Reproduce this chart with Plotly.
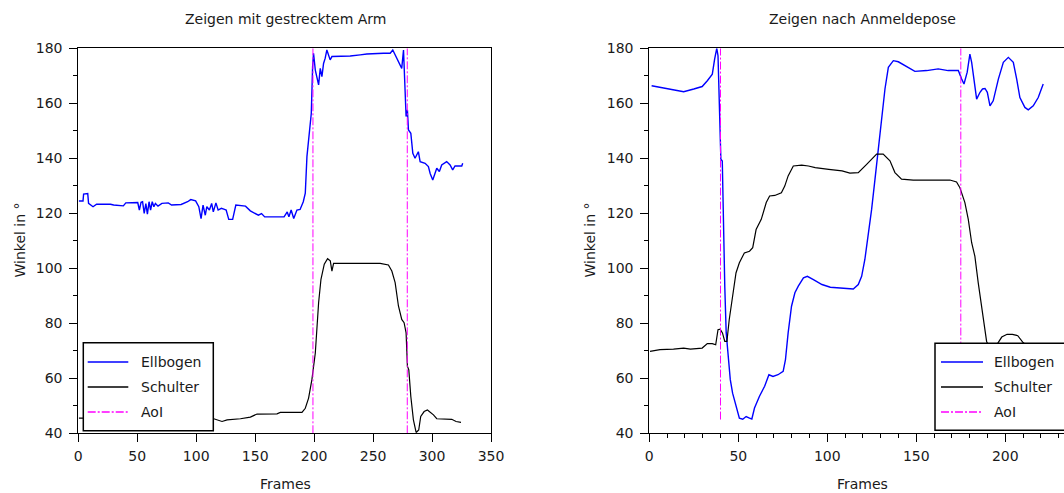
import plotly.graph_objects as go

# ---------------- data ----------------
left_frames_ellbogen = [0.5, 4.0, 4.5, 8.0, 8.7, 12.5, 15.5, 27.3, 30.0, 38.2,
                        40.3, 50.4, 51.8, 53.2, 54.5, 55.9, 57.3, 58.6, 60.0, 61.3,
                        62.7, 64.1, 65.4, 67.6, 70.9, 76.3, 79.1, 87.2, 92.7, 95.4,
                        99.5, 102.2, 104.1, 105.8, 107.7, 109.0, 111.2, 113.1, 114.5, 116.7,
                        118.6, 121.3, 124.0, 125.4, 127.6, 130.9, 133.6, 141.8, 145.9, 149.9,
                        152.7, 155.4, 158.1, 171.8, 174.5, 177.2, 178.6, 180.5, 182.7, 185.4,
                        188.1, 190.8, 192.5, 193.9, 196.2, 197.6, 198.7, 199.5, 201.0, 202.4,
                        203.8, 205.2, 206.6, 208.0, 209.4, 210.8, 212.2, 213.6, 215.1, 222.1,
                        230.6, 239.1, 244.7, 258.8, 264.5, 266.7, 268.7, 271.5, 274.3, 275.8,
                        276.6, 278.0, 279.1, 280.0, 282.0, 283.7, 285.6, 288.4, 289.9, 294.1,
                        296.9, 298.4, 300.6, 302.6, 304.0, 306.2, 308.2, 312.4, 315.3, 317.5,
                        319.5, 325.2, 326.0]
left_ellbogen = [124.5, 124.5, 127.0, 127.2, 123.6, 122.4, 123.3, 123.3, 123.0, 122.7,
                 123.8, 123.9, 121.2, 124.0, 124.2, 120.0, 123.5, 119.7, 124.2, 121.2,
                 124.2, 122.4, 123.6, 122.6, 123.6, 123.8, 123.0, 123.2, 124.2, 125.0,
                 124.5, 122.4, 118.1, 123.0, 119.3, 122.4, 121.2, 123.6, 120.5, 123.8,
                 121.2, 121.8, 121.4, 121.2, 117.8, 117.8, 123.0, 122.6, 120.9, 119.9,
                 119.3, 119.9, 118.7, 118.7, 118.7, 120.5, 118.7, 121.2, 118.1, 121.2,
                 121.4, 124.2, 127.3, 140.6, 149.1, 156.4, 173.3, 178.2, 172.1, 169.7,
                 166.7, 172.7, 169.7, 174.5, 176.4, 179.4, 177.6, 175.8, 177.0, 177.0,
                 177.2, 177.6, 177.9, 178.2, 178.2, 179.4, 177.6, 175.2, 172.7, 179.4,
                 168.5, 155.2, 157.6, 150.3, 149.1, 141.8, 140.0, 142.4, 138.8, 138.2,
                 137.0, 134.5, 132.1, 134.5, 136.4, 135.2, 137.6, 138.8, 137.6, 135.8,
                 137.2, 137.2, 138.2]

left_frames_schulter = [0.5, 50.0, 100.0, 114.9, 121.9, 126.2, 137.5, 145.9, 151.6, 168.5,
                        171.3, 189.7, 192.5, 195.3, 198.1, 201.0, 203.8, 205.8, 208.6, 211.4,
                        213.7, 215.1, 216.5, 256.0, 263.0, 265.9, 268.7, 271.5, 274.3, 276.3,
                        278.0, 279.1, 280.3, 282.0, 284.2, 286.5, 288.7, 290.4, 293.3, 296.1,
                        301.2, 304.0, 316.7, 320.4, 324.6]
left_schulter = [45.5, 45.5, 45.4, 45.3, 44.3, 44.9, 45.3, 45.9, 47.0, 47.1,
                 47.6, 47.6, 49.1, 52.8, 59.5, 69.2, 87.5, 96.0, 101.5, 103.5,
                 102.7, 99.0, 101.8, 101.8, 101.2, 99.0, 94.8, 86.3, 81.4, 80.2,
                 76.5, 64.4, 63.1, 53.4, 44.9, 40.3, 41.2, 46.1, 47.9, 48.5,
                 46.7, 45.3, 45.1, 44.3, 44.0]

left_aoi_frames = [199, 279]
left_aoi_span = [40, 180]

right_frames_ellbogen = [1.3, 6.0, 10.0, 14.6, 19.3, 25.0, 29.7, 32.6, 35.4, 36.7,
                         37.9, 38.6, 39.4, 40.2, 41.0, 41.7, 42.4, 43.2, 44.3, 45.5,
                         46.8, 48.7, 50.6, 52.5, 54.4, 56.3, 57.6, 59.1, 61.9, 64.8,
                         67.2, 69.5, 72.3, 75.2, 76.5, 78.0, 79.9, 81.8, 83.7, 86.6,
                         88.8, 92.2, 97.0, 101.7, 108.3, 114.6, 117.4, 119.3, 121.1, 123.0,
                         124.9, 126.8, 128.6, 130.5, 132.4, 134.3, 137.1, 139.9, 143.6, 149.2,
                         155.8, 162.3, 167.9, 173.6, 175.5, 176.8, 178.6, 180.1, 181.1, 182.4,
                         183.9, 185.8, 187.2, 188.6, 189.9, 191.4, 193.2, 196.1, 198.9, 201.7,
                         204.5, 206.4, 208.2, 211.0, 212.9, 215.7, 218.5, 221.3]
right_ellbogen = [166.4, 165.8, 165.4, 164.8, 164.2, 165.2, 166.1, 168.2, 170.6, 176.1,
                  180.0, 177.3, 160.9, 139.7, 139.0, 110.0, 93.5, 76.5, 66.8, 59.5,
                  54.6, 49.8, 45.5, 45.1, 46.1, 45.5, 45.2, 49.2, 53.5, 57.1,
                  61.3, 60.7, 61.3, 62.5, 66.8, 76.5, 86.2, 91.1, 93.5, 96.5,
                  97.1, 95.9, 94.1, 93.1, 92.9, 92.5, 94.1, 97.1, 103.2, 111.7,
                  121.4, 132.4, 143.3, 154.2, 165.2, 173.1, 175.5, 175.1, 173.7, 171.6,
                  171.9, 172.5, 171.9, 171.9, 168.8, 167.0, 171.3, 177.9, 174.9, 168.8,
                  161.5, 164.0, 165.2, 165.4, 164.0, 159.1, 160.9, 168.8, 174.9, 176.7,
                  174.9, 168.8, 162.1, 158.5, 157.6, 159.1, 162.1, 167.0]

right_frames_schulter = [0.4, 6.0, 13.6, 19.3, 23.1, 29.7, 32.6, 35.4, 37.3, 38.6,
                         39.8, 41.1, 42.4, 43.6, 44.9, 46.8, 48.7, 50.6, 53.4, 56.3,
                         58.1, 60.0, 62.9, 65.7, 67.6, 70.5, 74.2, 76.1, 78.0, 80.9,
                         85.6, 89.4, 93.2, 100.8, 108.3, 112.7, 117.4, 122.1, 127.7, 131.4,
                         135.2, 138.0, 141.7, 148.3, 159.5, 168.9, 172.6, 174.5, 177.3, 179.2,
                         181.1, 182.9, 184.8, 187.2, 189.5, 192.0, 195.0, 198.0, 201.0, 204.0,
                         207.0, 210.0, 215.0, 220.0, 222.0]
right_schulter = [69.8, 70.4, 70.6, 71.0, 70.6, 71.0, 72.6, 72.6, 72.2, 77.7,
                  77.9, 76.5, 73.4, 73.4, 81.3, 89.8, 98.3, 102.0, 105.6, 106.2,
                  107.5, 114.1, 117.8, 123.9, 126.3, 126.5, 127.5, 129.9, 133.6, 137.2,
                  137.5, 137.2, 136.6, 136.0, 135.4, 134.6, 134.8, 137.8, 141.5, 141.5,
                  139.1, 134.8, 132.4, 132.1, 132.1, 132.1, 131.4, 129.3, 123.9, 117.8,
                  109.3, 104.4, 94.7, 83.8, 73.4, 70.0, 72.0, 75.0, 76.0, 76.0,
                  75.5, 73.0, 70.0, 68.0, 67.5]

right_aoi_frames = [40, 175]
right_aoi_span = [45, 180]

series_names = ["Ellbogen", "Schulter", "AoI"]
series_colors = ["#0000ff", "#000000", "#ff00ff"]
titles = ["Zeigen mit gestrecktem Arm", "Zeigen nach Anmeldepose"]
x_label = "Frames"
y_label = "Winkel in °"

# ---------------- figure ----------------
W, H = 1064, 493
FONT = "DejaVu Sans"
TXT = "#1a1a1a"
AOI_DASH = "8px,2px,2px,2px"


def pxx(x):
    return x / W


def pxy(y):
    return 1 - y / H


def aoi_xy(frames, span):
    xs, ys = [], []
    for f in frames:
        xs += [f, f, None]
        ys += [span[0], span[1], None]
    return xs, ys


fig = go.Figure()

panels = [
    ("x", "y", left_frames_ellbogen, left_ellbogen, left_frames_schulter, left_schulter,
     left_aoi_frames, left_aoi_span),
    ("x2", "y2", right_frames_ellbogen, right_ellbogen, right_frames_schulter, right_schulter,
     right_aoi_frames, right_aoi_span),
]
for i, (xa, ya, fe, ve, fs, vs, af, asp) in enumerate(panels):
    fig.add_trace(go.Scatter(x=fe, y=ve, mode="lines", name=series_names[0],
                             line=dict(color=series_colors[0], width=1.4),
                             xaxis=xa, yaxis=ya, showlegend=False))
    fig.add_trace(go.Scatter(x=fs, y=vs, mode="lines", name=series_names[1],
                             line=dict(color=series_colors[1], width=1.2),
                             xaxis=xa, yaxis=ya, showlegend=False))
    ax_, ay_ = aoi_xy(af, asp)
    fig.add_trace(go.Scatter(x=ax_, y=ay_, mode="lines", name=series_names[2],
                             line=dict(color=series_colors[2], width=1, dash=AOI_DASH),
                             xaxis=xa, yaxis=ya, showlegend=False))

ydom = [pxy(433.3), pxy(48.3)]
tickfont = dict(family=FONT, size=14, color=TXT)
minor_ticks = dict(dtick=10, ticks="outside", ticklen=4, tickcolor="black", showgrid=False)
common_x = dict(showline=True, linecolor="black", linewidth=1, ticks="outside",
                ticklen=8, tickwidth=1, tickcolor="black", showgrid=False,
                zeroline=False, tickfont=tickfont, tick0=0, dtick=50,
                ticklabelstandoff=2)
common_y = dict(showline=True, linecolor="black", linewidth=1, ticks="outside",
                ticklen=8, tickwidth=1, tickcolor="black", showgrid=False,
                zeroline=False, tickfont=tickfont, range=[40, 180], tick0=40, dtick=20,
                minor=minor_ticks, domain=ydom, ticklabelstandoff=4)

fig.update_layout(
    width=W, height=H,
    margin=dict(l=0, r=0, t=0, b=0, autoexpand=False),
    paper_bgcolor="white", plot_bgcolor="white",
    showlegend=False,
    xaxis=dict(common_x, domain=[pxx(78.3), pxx(491)], range=[0, 350],
               anchor="y", mirror=True),
    yaxis=dict(common_y, anchor="x", mirror=True),
    xaxis2=dict(common_x, domain=[pxx(649.3), 1.0], range=[0, (W - 649.3) / 1.78],
                anchor="y2", mirror=True, minor=minor_ticks),
    yaxis2=dict(common_y, anchor="x2", mirror=False),
)

annotations = []
shapes = []
# titles and axis labels
title_cx = [285, 862]
for t, cx in zip(titles, title_cx):
    annotations.append(dict(text=t, x=pxx(cx), y=pxy(19), xref="paper", yref="paper",
                            showarrow=False, xanchor="center", yanchor="middle",
                            font=dict(family=FONT, size=14, color=TXT)))
    annotations.append(dict(text=x_label, x=pxx(cx), y=pxy(483.5), xref="paper", yref="paper",
                            showarrow=False, xanchor="center", yanchor="middle",
                            font=dict(family=FONT, size=14, color=TXT)))
for cx in [19, 589]:
    annotations.append(dict(text=y_label, x=pxx(cx), y=pxy(240.5), xref="paper", yref="paper",
                            showarrow=False, xanchor="center", yanchor="middle",
                            textangle=-90, font=dict(family=FONT, size=14, color=TXT)))

# legend boxes (drawn as shapes + text)
legend_boxes = [(83.3, 213.3, 342.7, 430.7, 87.7, 128.3, 139.3),
                (935.0, 1090.0, 343.3, 430.3, 941.0, 983.0, 992.0)]
row_y = [362, 387, 412]
for (bx0, bx1, by0, by1, lx0, lx1, tx) in legend_boxes:
    shapes.append(dict(type="rect", xref="paper", yref="paper",
                       x0=pxx(bx0), x1=pxx(bx1), y0=pxy(by1), y1=pxy(by0),
                       fillcolor="white", line=dict(color="black", width=1.5), layer="above"))
    for name, col, ry in zip(series_names, series_colors, row_y):
        dash = AOI_DASH if name == "AoI" else "solid"
        shapes.append(dict(type="line", xref="paper", yref="paper",
                           x0=pxx(lx0), x1=pxx(lx1), y0=pxy(ry), y1=pxy(ry),
                           line=dict(color=col, width=1.4, dash=dash), layer="above"))
        annotations.append(dict(text=name, x=pxx(tx), y=pxy(ry), xref="paper", yref="paper",
                                showarrow=False, xanchor="left", yanchor="middle",
                                font=dict(family=FONT, size=14, color=TXT)))

fig.update_layout(annotations=annotations, shapes=shapes)
fig.write_html("out.html", config={"displayModeBar": False},
               post_script="document.body.style.margin='0';document.body.style.overflow='hidden';")
